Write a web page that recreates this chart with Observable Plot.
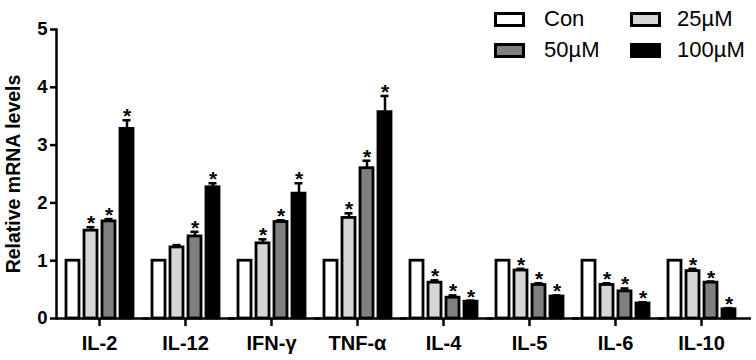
<!DOCTYPE html>
<html><head><meta charset="utf-8">
<script src="https://cdn.jsdelivr.net/npm/d3@7"></script>
<script src="https://cdn.jsdelivr.net/npm/@observablehq/plot@0.6"></script>
<style>
body{margin:0;background:#fff;font-family:"Liberation Sans",Arial,sans-serif;}
#wrap{position:relative;width:756px;height:360px;}
.item{position:absolute;display:flex;align-items:center;font-size:22px;line-height:1;color:#000;}
.sw{box-sizing:border-box;width:31px;height:15px;border:3.5px solid #000;margin-right:19px;}
</style>
</head><body>
<div id="wrap"><div id="chart"></div><div id="legend"></div></div>
<script>
const categories = ["IL-2","IL-12","IFN-γ","TNF-α","IL-4","IL-5","IL-6","IL-10"];
const series = ["Con","25µM","50µM","100µM"];
const colors = ["#ffffff","#d6d6d6","#7f7f7f","#000000"];
const yTicks = [0,1,2,3,4,5];
const valCon  = [1,1,1,1,1,1,1,1];
const val25   = [1.52,1.23,1.30,1.74,0.62,0.83,0.58,0.82];
const val50   = [1.68,1.42,1.67,2.60,0.36,0.58,0.47,0.62];
const val100  = [3.28,2.27,2.16,3.57,0.29,0.38,0.26,0.16];
const errCon  = [0,0,0,0,0,0,0,0];
const err25   = [0.06,0.04,0.07,0.08,0.04,0.03,0.03,0.04];
const err50   = [0.04,0.08,0.03,0.13,0.04,0.03,0.05,0.02];
const err100  = [0.15,0.07,0.18,0.28,0.02,0.02,0.02,0.02];
const sigCon  = [0,0,0,0,0,0,0,0];
const sig25   = [1,0,1,1,1,1,1,1];
const sig50   = [1,1,1,1,1,1,1,1];
const sig100  = [1,1,1,1,1,1,1,1];

const vals = [valCon,val25,val50,val100];
const errs = [errCon,err25,err50,err100];
const sigs = [sigCon,sig25,sig50,sig100];
const data = [];
categories.forEach((c,i)=>series.forEach((s,j)=>data.push({cat:c,series:s,value:vals[j][i],err:errs[j][i],top:vals[j][i]+errs[j][i],sig:sigs[j][i]})));
const withErr = data.filter(d=>d.err>0);
const starred = data.filter(d=>d.sig);

const chart = Plot.plot({
  width:756, height:360,
  marginTop:29, marginBottom:42, marginLeft:53, marginRight:9,
  style:{fontFamily:"'Liberation Sans', Arial, sans-serif", fontWeight:"bold", fontSize:"18px", background:"white", color:"black"},
  fx:{domain:categories, padding:0, paddingOuter:0, label:null, axis:null},
  x:{domain:series, paddingInner:0.3, paddingOuter:0.42, axis:null},
  y:{domain:[0,5], axis:null},
  color:{domain:series, range:colors},
  marks:[
    Plot.ruleY([0], {stroke:"black", strokeWidth:2.5, insetRight:-7}),
    Plot.frame({anchor:"left", stroke:"black", strokeWidth:2.5, facetAnchor:"left"}),
    Plot.axisY({ticks:yTicks, tickFormat:"d", tickSize:6, tickPadding:3, strokeWidth:2.5, fontSize:18.5, fontWeight:"bold", label:null}),
    Plot.axisY({ticks:[], tickSize:0, fontSize:19.5, fontWeight:"bold",
      label:"Relative mRNA levels", labelAnchor:"center", labelOffset:50, labelArrow:"none"}),
    Plot.axisFx({anchor:"bottom", tickSize:8, tickPadding:9, strokeWidth:2.5, fontSize:20, fontWeight:"bold", label:null}),
    Plot.ruleX(withErr, {fx:"cat", x:"series", y1:"value", y2:"top", stroke:"black", strokeWidth:2.5}),
    Plot.tickY(withErr, {fx:"cat", x:"series", y:"top", stroke:"black", strokeWidth:2.5, insetLeft:2.5, insetRight:2.5}),
    Plot.barY(data, {fx:"cat", x:"series", y:"value", fill:"series", stroke:"black", strokeWidth:2.8}),
    Plot.text(starred, {fx:"cat", x:"series", y:"top", text:()=>"*", fontSize:21, fontWeight:"bold", lineAnchor:"bottom", dy:3, fill:"black"})
  ]
});
document.getElementById("chart").appendChild(chart);

const legendPos = [[494,8],[630,8],[494,39],[630,39]];
const lg = document.getElementById("legend");
series.forEach((s,i)=>{
  const it = document.createElement("div");
  it.className="item";
  it.style.left = legendPos[i][0]+"px";
  it.style.top = legendPos[i][1]+"px";
  const sw = document.createElement("div");
  sw.className="sw";
  sw.style.background = colors[i];
  if(i%2===1) sw.style.marginRight="16px";
  const t = document.createElement("span");
  t.textContent = s;
  it.appendChild(sw); it.appendChild(t);
  lg.appendChild(it);
});
</script>
</body></html>
